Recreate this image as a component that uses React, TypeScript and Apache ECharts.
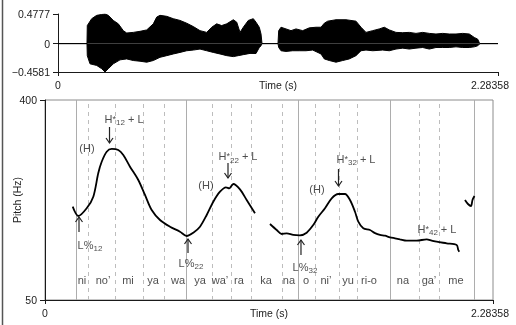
import React, { useEffect, useRef } from 'react';
import * as echarts from 'echarts';

const FONT = '"Liberation Sans", Arial, Helvetica, sans-serif';

// ---- axes ----
const T_MAX = 2.28358;
const AMP_MIN = -0.4581;
const AMP_MAX = 0.4777;
const timeTicks = [0, T_MAX];
const ampTicks = [AMP_MIN, 0, AMP_MAX];
const PITCH_MIN = 50;
const PITCH_MAX = 400;

// ---- waveform envelope (time s, amplitude) ----
const waveUpper: [number, number][] = [
  [0, 0], [0.1505, 0], [0.152, 0.291], [0.1749, 0.402], [0.2009, 0.456], [0.2268, 0.47], [0.2439, 0.4777],
  [0.2611, 0.456], [0.287, 0.374], [0.313, 0.319], [0.3389, 0.209], [0.3566, 0.171], [0.3908, 0.181],
  [0.4256, 0.198], [0.4604, 0.221], [0.4946, 0.319], [0.5123, 0.428], [0.5294, 0.456], [0.5642, 0.44],
  [0.5984, 0.402], [0.6332, 0.374], [0.668, 0.329], [0.7022, 0.275], [0.737, 0.209], [0.7718, 0.181],
  [0.7977, 0.264], [0.8237, 0.319], [0.8496, 0.291], [0.8756, 0.319], [0.9098, 0.385], [0.9275, 0.346],
  [0.9446, 0.181], [0.9617, 0.264], [0.9877, 0.374], [1.0136, 0.402], [1.0276, 0.346], [1.0447, 0.264],
  [1.0536, 0.155], [1.0588, 0], [1.1418, 0], [1.1454, 0.209], [1.1574, 0.264], [1.1833, 0.237],
  [1.2093, 0.209], [1.2352, 0.237], [1.27, 0.209], [1.3042, 0.254], [1.339, 0.264], [1.365, 0.264],
  [1.3821, 0.329], [1.3998, 0.362], [1.4428, 0.385], [1.4947, 0.385], [1.5466, 0.362], [1.5726, 0.264],
  [1.5985, 0.181], [1.6333, 0.209], [1.6675, 0.237], [1.6935, 0.264], [1.7195, 0.221], [1.7542, 0.181],
  [1.789, 0.176], [1.8232, 0.181], [1.858, 0.165], [1.8928, 0.181], [1.927, 0.165], [1.9618, 0.155],
  [1.9965, 0.165], [2.0308, 0.155], [2.0656, 0.155], [2.1003, 0.165], [2.1346, 0.155], [2.1606, 0.099],
  [2.1782, 0.072], [2.1865, 0.016], [2.1902, 0], [2.28358, 0],
];
const waveLower: [number, number][] = [
  [0, 0], [0.1505, 0], [0.152, -0.194], [0.1661, -0.326], [0.2009, -0.352], [0.2268, -0.405], [0.2439, -0.4581],
  [0.2611, -0.405], [0.287, -0.326], [0.3218, -0.262], [0.3566, -0.247], [0.3908, -0.273], [0.4256, -0.284],
  [0.4604, -0.3], [0.4946, -0.273], [0.5294, -0.221], [0.5642, -0.194], [0.5984, -0.167], [0.6332, -0.142],
  [0.668, -0.115], [0.7022, -0.104], [0.737, -0.088], [0.7718, -0.115], [0.806, -0.142], [0.8408, -0.167],
  [0.8756, -0.194], [0.9098, -0.21], [0.9358, -0.194], [0.9617, -0.178], [0.9965, -0.158], [1.0276, -0.16],
  [1.0447, -0.063], [1.0536, -0.036], [1.0588, 0], [1.1418, 0], [1.1454, -0.063], [1.1574, -0.115],
  [1.1833, -0.126], [1.2181, -0.115], [1.2523, -0.115], [1.2871, -0.115], [1.3219, -0.104], [1.365, -0.167],
  [1.3821, -0.247], [1.4081, -0.273], [1.4428, -0.3], [1.4776, -0.273], [1.5118, -0.247], [1.5466, -0.194],
  [1.5726, -0.115], [1.5985, -0.104], [1.6333, -0.115], [1.6852, -0.104], [1.7195, -0.115], [1.7542, -0.088],
  [1.789, -0.073], [1.8232, -0.088], [1.858, -0.073], [1.8928, -0.063], [1.927, -0.088], [1.9618, -0.063],
  [1.9965, -0.063], [2.0308, -0.063], [2.0656, -0.052], [2.1003, -0.063], [2.1346, -0.063], [2.1606, -0.052],
  [2.1782, -0.036], [2.1865, -0.01], [2.1902, 0], [2.28358, 0],
];

// ---- pitch track (time s, Hz) ----
const pitchSeg1: [number, number][] = [
  [0.1412, 213.3], [0.1697, 197], [0.2125, 210.5], [0.2462, 230.8], [0.2717, 272.3], [0.289, 292],
  [0.3145, 309.5], [0.34, 314.3], [0.3736, 312.5], [0.3991, 303.8], [0.4332, 283.3], [0.4755, 260],
  [0.5097, 233.8], [0.5438, 207.5], [0.5862, 190], [0.6371, 178.3], [0.6881, 169.5], [0.7222, 162],
  [0.7559, 167.8], [0.79, 178.3], [0.8242, 198.8], [0.8578, 222], [0.892, 239.5], [0.9226, 247.2],
  [0.9394, 245.5], [0.9598, 253], [0.9939, 243.7], [1.028, 225], [1.0703, 201.7],
];
const pitchSeg2: [number, number][] = [
  [1.1468, 183], [1.181, 172.5], [1.2065, 165.5], [1.232, 166.7], [1.2656, 163.8], [1.2997, 163.2],
  [1.3339, 167.8], [1.3675, 181.3], [1.393, 195.8], [1.4272, 210.5], [1.4613, 228], [1.495, 235.5],
  [1.5291, 235.5], [1.5546, 225], [1.5801, 204.5], [1.5969, 187], [1.6224, 175.5], [1.6566, 172.5],
  [1.6822, 167], [1.7075, 163.8], [1.7331, 162.5], [1.7585, 159.7], [1.7841, 158], [1.8094, 156.2],
  [1.8436, 153.8], [1.8946, 153.8], [1.9455, 156.2], [1.9710, 154], [1.9965, 152], [2.0474, 149.2],
  [2.0984, 146.3], [2.1066, 137.5], [2.1117, 134.5],
];
const pitchSeg3: [number, number][] = [
  [2.1407, 225], [2.156, 218], [2.1713, 214.5], [2.179, 225], [2.1891, 232],
];

// ---- segmentation ----
const wordBounds = [0.158, 0.7212, 1.2896, 1.7559, 2.1918];
const syllableBounds = [0.2243, 0.3619, 0.4995, 0.6091, 0.8537, 0.948, 1.05, 1.208, 1.3813, 1.5036, 1.5852, 1.9088, 2.0108];
const syllableText = ['ni', 'no\u2019', 'mi', 'ya', 'wa', 'ya', 'wa\u2019', 'ra', 'ka', 'na', 'o', 'ni\u2019', 'yu', 'ri-o', 'na', 'ga\u2019', 'me'];
const syllableTime = [0.1886, 0.2956, 0.4231, 0.5505, 0.6779, 0.79, 0.892, 0.9888, 1.1264, 1.2437, 1.3303, 1.4323, 1.5444, 1.6514, 1.8247, 1.9572, 2.0949];
const SYLLABLE_HZ = 85;

// ---- tonal annotations ----
const annotText = [
  '(H)', '{n|H}{sup|*}{sub|12}{n| + L}',
  '(H)', '{n|H}{sup|*}{sub|22}{n| + L}',
  '(H)', '{n|H}{sup|*}{sub|32}{n| + L}',
  '{n|H}{sup|*}{sub|42}{n| + L}',
  '{n|L%}{sub|12}', '{n|L%}{sub|22}', '{n|L%}{sub|32}',
];
const annotTime = [0.2141, 0.4027, 0.8206, 0.9837, 1.3864, 1.5852, 1.998, 0.2294, 0.7442, 1.3252];
const annotHz = [316, 366.8, 251.3, 302, 244.3, 296.8, 174.3, 146.3, 114.8, 107.8];

// arrows: time, tail Hz, tip Hz
const arrowTime = [0.3288, 0.9328, 1.496, 0.1733, 0.7289, 1.3048];
const arrowTail = [352.8, 289.8, 279.3, 169, 132.3, 128.8];
const arrowTip = [324.8, 263.5, 249.5, 195.3, 156.8, 155];

const INK = '#1a1a1a';
const TXT = '#222';

export default function App() {
  const ref = useRef<HTMLDivElement>(null);
  useEffect(() => {
    if (!ref.current) return;
    const chart = echarts.init(ref.current, undefined, { renderer: 'svg' });
    const richStyles = {
      n: { fontSize: 11, color: TXT, lineHeight: 16, fontFamily: FONT },
      sup: { fontSize: 9, color: TXT, lineHeight: 16, fontFamily: FONT },
      sub: { fontSize: 8, color: TXT, verticalAlign: 'bottom', lineHeight: 8, fontFamily: FONT },
    };
    const timeAxis = (gridIndex: number, pad: number) => ({
      gridIndex, type: 'value', min: 0, max: T_MAX,
      name: 'Time (s)', nameLocation: 'middle', nameGap: 7, nameMoveOverlap: false,
      nameTextStyle: { fontSize: 10.5, color: TXT, verticalAlign: 'top' },
      axisLine: { onZero: false, lineStyle: { color: INK, width: 1 } },
      axisTick: { customValues: timeTicks, length: 4, lineStyle: { color: INK } },
      axisLabel: {
        customValues: timeTicks, margin: 7, fontSize: 10.5, color: TXT,
        formatter: (v: number) => (v === 0 ? '0' : '{r|' + T_MAX + '}'),
        rich: { r: { fontSize: 10.5, color: TXT, padding: [0, pad, 0, 0] } },
      },
      splitLine: { show: false },
    });
    const textLabel = {
      show: true, position: [0.5, 0.5], align: 'center', verticalAlign: 'middle',
      fontSize: 11, color: TXT,
    };
    const option: any = {
      animation: false,
      backgroundColor: '#fff',
      textStyle: { fontFamily: FONT, color: TXT },
      grid: [
        { left: 58, right: 18, top: 14, height: 58, outerBoundsMode: 'none', containLabel: false },
        {
          left: 45, right: 23, top: 100, height: 200, show: true, borderColor: '#8c8c8c', borderWidth: 1,
          outerBoundsMode: 'none', containLabel: false,
        },
      ],
      xAxis: [timeAxis(0, 16), timeAxis(1, 6)],
      yAxis: [
        {
          gridIndex: 0, type: 'value', min: AMP_MIN, max: AMP_MAX,
          axisLine: { show: true, onZero: false, lineStyle: { color: INK, width: 1 } },
          axisTick: { show: true, customValues: ampTicks, length: 5, lineStyle: { color: INK } },
          axisLabel: {
            customValues: ampTicks, margin: 8, fontSize: 10.5, color: TXT,
            formatter: (v: number) => (v < 0 ? '\u2212' + Math.abs(v).toFixed(4) : v === 0 ? '0' : v.toFixed(4)),
          },
          splitLine: { show: false },
        },
        {
          gridIndex: 1, type: 'value', min: PITCH_MIN, max: PITCH_MAX, interval: PITCH_MAX - PITCH_MIN,
          name: 'Pitch (Hz)', nameLocation: 'middle', nameGap: 23, nameMoveOverlap: false,
          nameTextStyle: { fontSize: 10.5, color: TXT },
          axisLine: { show: true, onZero: false, lineStyle: { color: INK, width: 1 } },
          axisTick: { show: true, length: 5, lineStyle: { color: INK } },
          axisLabel: { margin: 8, fontSize: 10.5, color: TXT },
          splitLine: { show: false },
        },
      ],
      graphic: [
        { type: 'line', shape: { x1: 2.5, y1: 0, x2: 2.5, y2: 325 }, style: { stroke: '#555', lineWidth: 1.5 } },
      ],
      series: [
        {
          type: 'line', xAxisIndex: 0, yAxisIndex: 0, data: waveUpper, symbol: 'none',
          lineStyle: { color: '#000', width: 1 }, areaStyle: { color: '#000', opacity: 1 }, silent: true,
        },
        {
          type: 'line', xAxisIndex: 0, yAxisIndex: 0, data: waveLower, symbol: 'none',
          lineStyle: { color: '#000', width: 1 }, areaStyle: { color: '#000', opacity: 1 }, silent: true,
        },
        {
          type: 'line', xAxisIndex: 1, yAxisIndex: 1, data: [[0, PITCH_MIN]], symbol: 'none',
          lineStyle: { opacity: 0 }, silent: true, z: 1,
          markLine: {
            silent: true, symbol: ['none', 'none'], label: { show: false },
            lineStyle: { color: '#adadad', type: 'solid', width: 1 },
            emphasis: { disabled: true },
            data: wordBounds.map((t) => ({ xAxis: t })),
          },
        },
        {
          type: 'line', xAxisIndex: 1, yAxisIndex: 1, data: [[0, PITCH_MIN]], symbol: 'none',
          lineStyle: { opacity: 0 }, silent: true, z: 1,
          markLine: {
            silent: true, symbol: ['none', 'none'], label: { show: false },
            lineStyle: { color: '#bdbdbd', type: [4, 4], width: 1 },
            emphasis: { disabled: true },
            data: syllableBounds.map((t) => ({ xAxis: t })),
          },
        },
        ...[pitchSeg1, pitchSeg2, pitchSeg3].map((seg) => ({
          type: 'line', xAxisIndex: 1, yAxisIndex: 1, data: seg, symbol: 'none', smooth: 0.3,
          lineStyle: { color: '#000', width: 1.8 }, z: 5, silent: true,
        })),
        {
          type: 'scatter', xAxisIndex: 1, yAxisIndex: 1, symbolSize: 1,
          itemStyle: { color: 'rgba(255,255,255,0)' }, silent: true, z: 6,
          data: syllableTime.map((t, i) => [t, SYLLABLE_HZ, syllableText[i]]),
          label: { ...textLabel, formatter: (p: any) => p.data[2] },
        },
        {
          type: 'scatter', xAxisIndex: 1, yAxisIndex: 1, symbolSize: 1,
          itemStyle: { color: 'rgba(255,255,255,0)' }, silent: true, z: 6,
          data: annotTime.map((t, i) => [t, annotHz[i], annotText[i]]),
          label: { ...textLabel, lineHeight: 16, formatter: (p: any) => p.data[2], rich: richStyles },
        },
        {
          type: 'custom', xAxisIndex: 1, yAxisIndex: 1, silent: true, z: 6,
          data: arrowTime.map((t, i) => [t, arrowTail[i], arrowTip[i]]),
          encode: { x: 0, y: [1, 2] },
          renderItem: (params: any, api: any) => {
            const p1 = api.coord([api.value(0), api.value(1)]);
            const p2 = api.coord([api.value(0), api.value(2)]);
            const dir = p1[1] > p2[1] ? 1 : -1;
            return {
              type: 'group',
              children: [
                { type: 'line', shape: { x1: p1[0], y1: p1[1], x2: p2[0], y2: p2[1] }, style: { stroke: '#222', lineWidth: 1.2 } },
                {
                  type: 'polyline',
                  shape: { points: [[p2[0] - 3.5, p2[1] + 5 * dir], [p2[0], p2[1]], [p2[0] + 3.5, p2[1] + 5 * dir]] },
                  style: { stroke: '#222', lineWidth: 1.2, fill: 'none' },
                },
              ],
            };
          },
        },
      ],
    };
    chart.setOption(option);
    return () => chart.dispose();
  }, []);
  return (
    <div
      ref={ref}
      style={{
        position: 'fixed', left: 0, top: 0, width: 516, height: 325, background: '#fff',
        willChange: 'transform', WebkitFontSmoothing: 'antialiased',
      } as any}
    />
  );
}
